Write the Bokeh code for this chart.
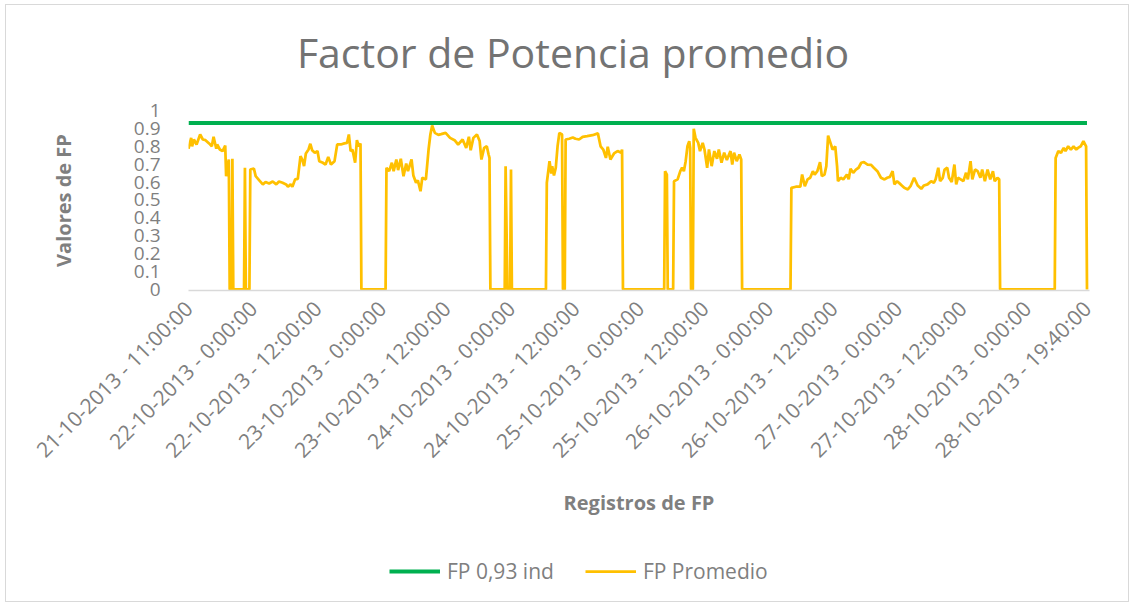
import math
from bokeh.plotting import figure
from bokeh.layouts import column
from bokeh.models import Range1d, FixedTicker, CustomJSTickFormatter, Legend, LegendItem, Label
from bokeh.embed import file_html
from bokeh.resources import INLINE

# ---------------- data ----------------
registros = [
    0, 3, 4, 6, 9, 13, 16, 19, 23, 26, 28, 31, 32, 35, 38, 41, 42, 44, 45, 46,
    48, 49, 50, 62, 63, 64, 68, 69, 73, 75, 79, 83, 86, 90, 94, 98, 101, 105, 109, 111,
    114, 116, 119, 122, 125, 127, 129, 131, 134, 136, 138, 141, 144, 146, 150, 153, 156, 159, 163, 166,
    170, 174, 177, 179, 181, 183, 186, 188, 190, 192, 193, 220, 221, 224, 227, 229, 232, 234, 237, 240,
    243, 245, 249, 251, 254, 256, 259, 261, 265, 268, 270, 272, 275, 279, 282, 287, 292, 297, 301, 306,
    310, 313, 315, 318, 322, 325, 327, 330, 333, 335, 336, 337, 353, 354, 356, 359, 360, 361, 399, 400,
    403, 405, 406, 408, 410, 412, 414, 417, 418, 420, 421, 425, 429, 432, 436, 440, 445, 451, 457, 460,
    463, 466, 468, 471, 475, 479, 483, 484, 485, 531, 532, 534, 535, 541, 542, 546, 549, 551, 553, 555,
    557, 559, 560, 561, 563, 564, 566, 569, 571, 574, 576, 579, 581, 584, 587, 590, 592, 595, 598, 601,
    605, 607, 609, 612, 615, 617, 618, 672, 673, 678, 683, 685, 688, 691, 694, 697, 699, 702, 705, 707,
    710, 712, 714, 716, 719, 722, 724, 725, 728, 731, 735, 737, 739, 742, 745, 748, 751, 754, 758, 762,
    765, 769, 773, 777, 780, 783, 786, 788, 791, 795, 799, 803, 806, 810, 814, 818, 821, 825, 829, 832,
    834, 837, 839, 842, 844, 847, 849, 852, 855, 857, 859, 862, 865, 868, 870, 873, 875, 878, 881, 884,
    886, 889, 892, 895, 898, 900, 903, 905, 906, 967, 968, 971, 974, 977, 979, 982, 985, 988, 991, 993,
    996, 999, 1002, 1003,
]
fp_promedio = [
    0.786, 0.847, 0.80, 0.838, 0.81, 0.866, 0.838, 0.834, 0.816, 0.80, 0.853, 0.786, 0.81, 0.782, 0.773, 0.804, 0.633, 0.698, 0.726, 0,
    0, 0.73, 0, 0, 0.68, 0, 0, 0.67, 0.676, 0.633, 0.61, 0.587, 0.60, 0.592, 0.603, 0.587, 0.603, 0.596, 0.587, 0.574,
    0.587, 0.574, 0.615, 0.618, 0.745, 0.726, 0.689, 0.76, 0.782, 0.814, 0.778, 0.764, 0.773, 0.717, 0.708, 0.698, 0.741, 0.698, 0.717, 0.81,
    0.81, 0.816, 0.819, 0.866, 0.773, 0.782, 0.708, 0.834, 0.80, 0.816, 0, 0, 0.68, 0.661, 0.708, 0.661, 0.726, 0.667, 0.73, 0.633,
    0.704, 0.661, 0.726, 0.637, 0.596, 0.61, 0.549, 0.624, 0.615, 0.782, 0.866, 0.916, 0.875, 0.864, 0.868, 0.875, 0.847, 0.834, 0.81, 0.838,
    0.791, 0.853, 0.778, 0.847, 0.866, 0.829, 0.726, 0.791, 0.80, 0.754, 0.735, 0, 0, 0.689, 0, 0, 0.67, 0, 0, 0.596,
    0.717, 0.648, 0.689, 0.637, 0.68, 0.80, 0.875, 0.866, 0, 0, 0.838, 0.842, 0.849, 0.842, 0.838, 0.853, 0.857, 0.862, 0.872, 0.80,
    0.782, 0.735, 0.797, 0.726, 0.76, 0.773, 0.764, 0.782, 0, 0, 0.661, 0.642, 0, 0, 0.605, 0.615, 0.661, 0.68, 0.661, 0.717,
    0.80, 0.829, 0.791, 0, 0, 0.898, 0.847, 0.819, 0.773, 0.819, 0.782, 0.68, 0.782, 0.689, 0.773, 0.73, 0.782, 0.708, 0.764, 0.723,
    0.773, 0.698, 0.764, 0.717, 0.754, 0.726, 0, 0, 0.568, 0.574, 0.574, 0.642, 0.577, 0.615, 0.624, 0.661, 0.642, 0.661, 0.711, 0.633,
    0.642, 0.689, 0.86, 0.829, 0.782, 0.80, 0.689, 0.605, 0.624, 0.615, 0.642, 0.615, 0.674, 0.652, 0.67, 0.68, 0.708, 0.711, 0.698, 0.696,
    0.68, 0.661, 0.624, 0.615, 0.624, 0.629, 0.661, 0.587, 0.605, 0.587, 0.568, 0.559, 0.577, 0.624, 0.581, 0.562, 0.581, 0.587, 0.605, 0.596,
    0.615, 0.68, 0.605, 0.624, 0.67, 0.68, 0.624, 0.60, 0.698, 0.587, 0.624, 0.615, 0.605, 0.652, 0.615, 0.717, 0.615, 0.67, 0.661, 0.624,
    0.67, 0.605, 0.67, 0.615, 0.661, 0.605, 0.624, 0.615, 0, 0, 0.735, 0.773, 0.764, 0.791, 0.773, 0.80, 0.782, 0.80, 0.782, 0.791,
    0.80, 0.829, 0.80, 0,
]
ref_registros = [0, 1003]
ref_fp = [0.93, 0.93]

tick_registros = [0, 72, 144, 216, 288, 360, 432, 504, 576, 648, 720, 792, 864, 936, 1003]
tick_labels = [
    "21-10-2013 - 11:00:00", "22-10-2013 - 0:00:00", "22-10-2013 - 12:00:00",
    "23-10-2013 - 0:00:00", "23-10-2013 - 12:00:00", "24-10-2013 - 0:00:00",
    "24-10-2013 - 12:00:00", "25-10-2013 - 0:00:00", "25-10-2013 - 12:00:00",
    "26-10-2013 - 0:00:00", "26-10-2013 - 12:00:00", "27-10-2013 - 0:00:00",
    "27-10-2013 - 12:00:00", "28-10-2013 - 0:00:00", "28-10-2013 - 19:40:00",
]
y_ticks = [0, 0.1, 0.2, 0.3, 0.4, 0.5, 0.6, 0.7, 0.8, 0.9, 1.0]

FONT = "Open Sans"
GRAY = "#7f7f7f"
GREEN = "#00b050"
GOLD = "#ffc000"


def bare(fig):
    fig.background_fill_color = "white"
    fig.border_fill_color = "white"
    fig.outline_line_color = None
    fig.grid.visible = False


# ---------------- title strip ----------------
t = figure(width=1122, height=90, output_backend="svg", toolbar_location=None,
           x_range=Range1d(0, 1), y_range=Range1d(0, 1),
           x_axis_location=None, y_axis_location=None, min_border=0)
bare(t)
t.add_layout(Label(x=384.5, y=44, x_units="screen", y_units="screen",
                   text="Factor de Potencia promedio", text_font=FONT,
                   text_font_size="41px", text_color="#737373",
                   text_align="center", text_baseline="alphabetic"))

# ---------------- main chart ----------------
p = figure(width=1122, height=435, output_backend="svg", toolbar_location=None,
           x_range=Range1d(0, 1005.8), y_range=Range1d(-0.006, 1.0),
           min_border_left=182, min_border_right=39, min_border_top=15, min_border_bottom=240)
bare(p)

r_ref = p.line(ref_registros, ref_fp, line_color=GREEN, line_width=4)
r_fp = p.line(registros, fp_promedio, line_color=GOLD, line_width=2.75)

ya = p.yaxis[0]
ya.ticker = FixedTicker(ticks=y_ticks)
ya.formatter = CustomJSTickFormatter(code="return String(Math.round(tick*10)/10)")
ya.axis_line_color = None
ya.major_tick_line_color = None
ya.minor_tick_line_color = None
ya.major_label_text_font = FONT
ya.major_label_text_font_size = "19px"
ya.major_label_text_color = GRAY
ya.major_label_standoff = 22
ya.axis_label = "Valores de FP"
ya.axis_label_text_font = FONT
ya.axis_label_text_font_size = "20px"
ya.axis_label_text_font_style = "bold"
ya.axis_label_text_color = GRAY
ya.axis_label_standoff = 54

xa = p.xaxis[0]
xa.ticker = FixedTicker(ticks=tick_registros)
xa.major_label_overrides = {t_: l for t_, l in zip(tick_registros, tick_labels)}
xa.major_label_orientation = math.pi / 4
xa.axis_line_color = "#d9d9d9"
xa.axis_line_width = 1.5
xa.major_tick_line_color = None
xa.minor_tick_line_color = None
xa.major_label_text_font = FONT
xa.major_label_text_font_size = "21px"
xa.major_label_text_color = GRAY
xa.major_label_standoff = 8
xa.axis_label = "Registros de FP"
xa.axis_label_text_font = FONT
xa.axis_label_text_font_size = "20px"
xa.axis_label_text_font_style = "bold"
xa.axis_label_text_color = GRAY
xa.axis_label_standoff = 13

# ---------------- legend strip ----------------
q = figure(width=1122, height=71, output_backend="svg", toolbar_location=None,
           x_range=Range1d(0, 1), y_range=Range1d(2, 3),
           x_axis_location=None, y_axis_location=None, min_border=0)
bare(q)
q_ref = q.line(ref_registros, ref_fp, line_color=GREEN, line_width=4)
q_fp = q.line(registros, fp_promedio, line_color=GOLD, line_width=2.75)

legend = Legend(items=[LegendItem(label="FP 0,93 ind", renderers=[q_ref]),
                       LegendItem(label="FP Promedio", renderers=[q_fp])],
                orientation="horizontal", location=(201, 16),
                glyph_width=51, glyph_height=20, label_height=20,
                label_standoff=7, spacing=31, padding=0, margin=0,
                label_text_font=FONT, label_text_font_size="21px",
                label_text_color=GRAY, border_line_color=None,
                background_fill_alpha=0)
q.add_layout(legend)

layout = column(t, p, q, spacing=0,
                styles={"border": "1px solid #d9d9d9", "margin-left": "5px", "margin-top": "4px",
                        "background-color": "white"})

open("out.html", "w").write(file_html(layout, INLINE))
